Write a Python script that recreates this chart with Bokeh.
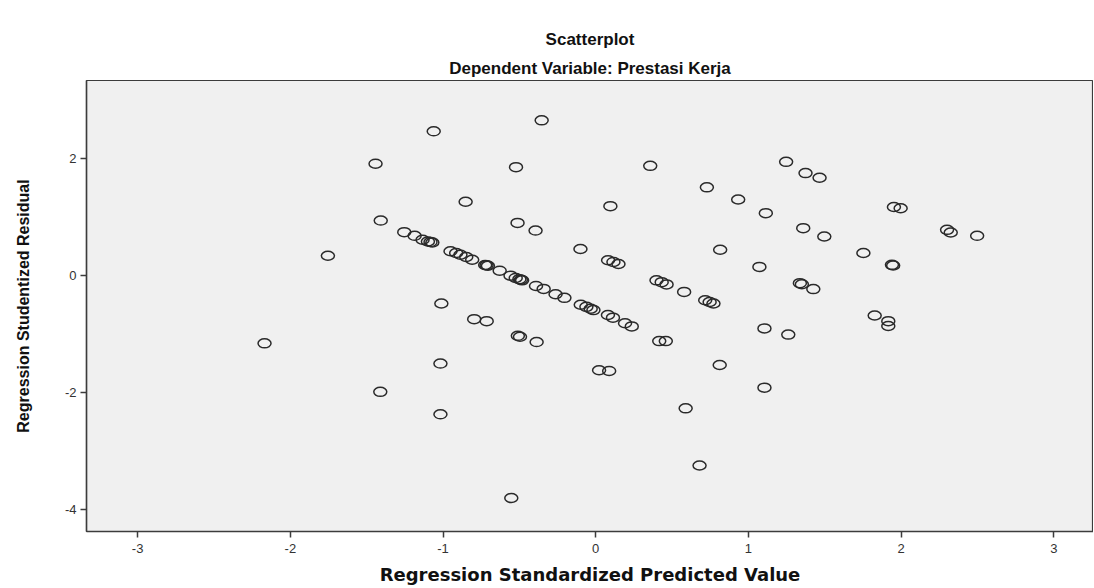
from bokeh.plotting import figure
from bokeh.models import Range1d, FixedTicker, Title
from bokeh.embed import file_html
from bokeh.resources import INLINE

# Regression Standardized Predicted Value (x) and Regression Studentized Residual (y)
pred_value = [
    -1.061, -0.354, -1.442, -0.522, 0.357, 1.247, 1.374, 1.466, 0.728, 0.933, 1.114, -0.852, 0.096, 1.953, 1.997,
    -1.408, -0.512, -0.394, 1.359, 1.497, 2.301, 2.325, 2.498, -1.754, -0.100, 0.815, 1.072, 1.753, 1.940, 1.948,
    0.081, 0.116, 0.149, 0.398, 0.432, 0.464, 0.579, 0.717, 0.746, 0.771, 1.337, 1.350, 1.425, 1.827, 1.916, 1.916,
    -1.254, -1.186, -1.134, -1.099, -1.082, -1.070,
    -0.951, -0.914, -0.886, -0.848, -0.809,
    -0.724, -0.715, -0.706, -0.629,
    -0.558, -0.524, -0.500, -0.490, -0.482,
    -0.391, -0.341, -0.263, -0.205,
    -0.098, -0.061, -0.033, -0.015,
    0.080, 0.113, 0.192, 0.236,
    0.416, 0.459,
    -1.011, -0.796, -0.714, -0.510, -0.496, -0.387, 0.812, 1.105, 1.261, -1.017, 0.022, 0.088, 0.589, 1.105,
    -1.017, 0.680, -0.553, -2.169, -1.411,
]
stud_resid = [
    2.471, 2.659, 1.917, 1.858, 1.880, 1.948, 1.756, 1.676, 1.512, 1.304, 1.070, 1.266, 1.190, 1.176, 1.154,
    0.943, 0.903, 0.772, 0.813, 0.670, 0.784, 0.738, 0.682, 0.341, 0.457, 0.443, 0.150, 0.387, 0.185, 0.173,
    0.264, 0.235, 0.199, -0.080, -0.111, -0.150, -0.278, -0.421, -0.452, -0.477, -0.128, -0.148, -0.230, -0.682, -0.779, -0.861,
    0.745, 0.682, 0.614, 0.585, 0.575, 0.568,
    0.418, 0.387, 0.358, 0.319, 0.273,
    0.182, 0.176, 0.170, 0.085,
    0.000, -0.039, -0.060, -0.070, -0.080,
    -0.176, -0.227, -0.319, -0.380,
    -0.499, -0.534, -0.567, -0.590,
    -0.673, -0.719, -0.815, -0.869,
    -1.120, -1.120,
    -0.477, -0.745, -0.779, -1.030, -1.045, -1.137, -1.529, -0.903, -1.009, -1.505, -1.619, -1.631, -2.272, -1.917,
    -2.374, -3.250, -3.806, -1.159, -1.989,
]
x_ticks = [-3, -2, -1, 0, 1, 2, 3]
x_tick_labels = ["-3", "-2", "-1", "0", "1", "2", "3"]
y_ticks = [-4, -2, 0, 2]
y_tick_labels = ["-4", "-2", "0", "2"]

title_text = "Scatterplot"
subtitle_text = "Dependent Variable: Prestasi Kerja"
x_label = "Regression Standardized Predicted Value"
y_label = "Regression Studentized Residual"

p = figure(
    width=1093, height=587,
    x_range=Range1d(-3.335, 3.26), y_range=Range1d(-4.38, 3.341),
    output_backend="svg", toolbar_location=None,
    min_border_left=86, min_border_right=0, min_border_top=80, min_border_bottom=54,
)
p.background_fill_color = "#f0f0f0"
p.border_fill_color = "white"
p.outline_line_color = "#3c3c3c"
p.outline_line_width = 1.2
p.grid.visible = False

p.title.text = title_text
p.title.align = "center"
p.title.text_font = "Liberation Sans"
p.title.text_font_style = "bold"
p.title.text_font_size = "17px"
p.title.text_color = "#111111"
sub_title = Title(text=subtitle_text, align="center", text_font="Liberation Sans",
                  text_font_style="bold", text_font_size="17px", text_color="#111111",
                  standoff=6)
p.add_layout(sub_title, "above")

for ax in (p.xaxis[0], p.yaxis[0]):
    ax.axis_line_color = "#3c3c3c"
    ax.axis_line_width = 1.5
    ax.major_tick_line_color = "#3c3c3c"
    ax.major_tick_line_width = 1.5
    ax.major_tick_out = 6
    ax.major_tick_in = 0
    ax.minor_tick_line_color = None
    ax.major_label_text_font = "Liberation Sans"
    ax.major_label_text_font_size = "13px"
    ax.major_label_text_color = "#333333"
    ax.axis_label_text_font = "DejaVu Sans"
    ax.axis_label_text_font_style = "bold"
    ax.axis_label_text_color = "#111111"

p.xaxis[0].ticker = FixedTicker(ticks=x_ticks)
p.yaxis[0].ticker = FixedTicker(ticks=y_ticks)
p.xaxis[0].major_label_overrides = dict(zip(x_ticks, x_tick_labels))
p.yaxis[0].major_label_overrides = dict(zip(y_ticks, y_tick_labels))
p.xaxis[0].axis_label = x_label
p.yaxis[0].axis_label = y_label
p.xaxis[0].axis_label_text_font_size = "18px"
p.yaxis[0].axis_label_text_font = "Liberation Sans"
p.yaxis[0].axis_label_text_font_size = "16px"
p.xaxis[0].major_label_standoff = 6
p.yaxis[0].major_label_standoff = 4
p.xaxis[0].axis_label_standoff = 8
p.yaxis[0].axis_label_standoff = 30

p.ellipse(x=pred_value, y=stud_resid, width=13, height=9,
          width_units="screen", height_units="screen",
          fill_color=None, line_color="#2a2a2a", line_width=1.5)

open("out.html", "w").write(file_html(p, INLINE))
